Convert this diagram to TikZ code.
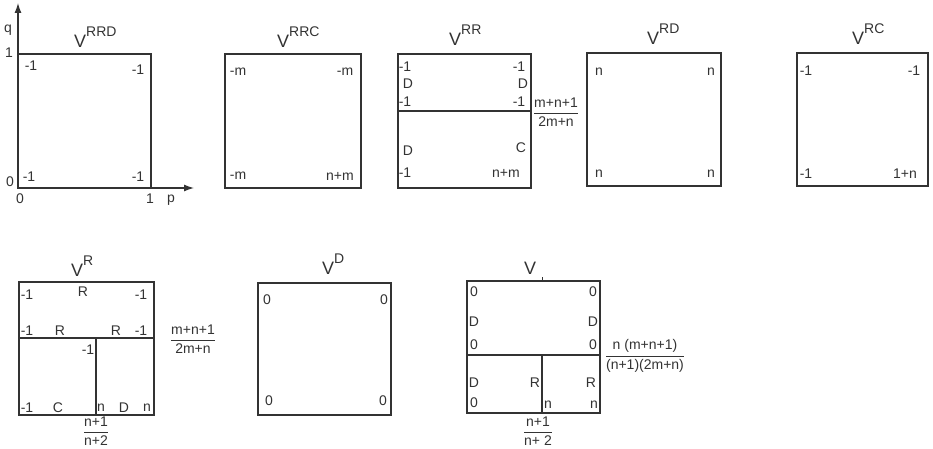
\documentclass[tikz,border=0pt]{standalone}
\usepackage{fontspec}
\usepackage{amsmath}
\setmainfont{Liberation Sans}
\usetikzlibrary{arrows.meta}
\definecolor{ink}{HTML}{333333}
\newcommand\lblf{\fontsize{14}{15}\selectfont}
\newcommand\vf{\fontsize{18}{19}\selectfont}
\newcommand\supf{\fontsize{14}{15}\selectfont}
\newcommand\ttlV[1]{{\vf V}\raisebox{11pt}{\supf #1}}
\begin{document}
\begin{tikzpicture}[x=1pt,y=-1pt,
  box/.style={draw=ink,line width=1.3pt},
  lab/.style={font=\lblf,text=ink,inner sep=0pt},
  ttl/.style={text=ink,inner sep=0pt,anchor=base west},
  frac/.style={font=\lblf,text=ink,inner sep=0pt},
  axis/.style={draw=ink,line width=1.3pt,-{Latex[length=10pt,width=7pt]}}]
\useasboundingbox (0,0) rectangle (933,449);
% ---------------- V^RRD with axes
\coordinate (o) at (18,188);
\coordinate (qtip) at (18,3);
\coordinate (ptip) at (194,188);
\draw[box] (18,54) rectangle (151,188);
\draw[axis] (o) -- (qtip);
\draw[axis] (o) -- (ptip);
\node[ttl] (t1) at (74,48) {\ttlV{RRD}};
\node[lab] (q) at (8,30) {q};
\node[lab] (q1) at (9,53) {1};
\node[lab] (q0) at (10,182) {0};
\node[lab] (p0) at (20,199) {0};
\node[lab] (p1) at (150,199) {1};
\node[lab] (p) at (171,200) {p};
\node[lab] (a1) at (31,66) {-1};
\node[lab] (a2) at (138,70) {-1};
\node[lab] (a3) at (29,177) {-1};
\node[lab] (a4) at (138,177) {-1};
% ---------------- V^RRC
\draw[box] (225,54) rectangle (361,188);
\node[ttl] (t2) at (277,48) {\ttlV{RRC}};
\node[lab] (b1) at (238,72) {-m};
\node[lab] (b2) at (345,72) {-m};
\node[lab] (b3) at (238,176) {-m};
\node[lab] (b4) at (340,176) {n+m};
% ---------------- V^RR
\draw[box] (398,54) rectangle (531,188);
\draw[box] (398,111) -- (531,111);
\node[ttl] (t3) at (449,46) {\ttlV{RR}};
\node[lab] (c1) at (405,67) {-1};
\node[lab] (c2) at (408,84) {D};
\node[lab] (c3) at (405,102) {-1};
\node[lab] (c4) at (519,67) {-1};
\node[lab] (c5) at (523,84) {D};
\node[lab] (c6) at (519,102) {-1};
\node[lab] (c7) at (408,151) {D};
\node[lab] (c8) at (405,173) {-1};
\node[lab] (c9) at (521,148) {C};
\node[lab] (c10) at (506,173) {n+m};
\node[frac] (cf) at (556,112) {$\dfrac{\text{m+n+1}}{\text{2m+n}}$};
% ---------------- V^RD
\draw[box] (587,53) rectangle (721,186);
\node[ttl] (t4) at (647,45) {\ttlV{RD}};
\node[lab] (d1) at (599,72) {n};
\node[lab] (d2) at (711,72) {n};
\node[lab] (d3) at (599,174) {n};
\node[lab] (d4) at (711,174) {n};
% ---------------- V^RC
\draw[box] (797,53) rectangle (928,186);
\node[ttl] (t5) at (852,45) {\ttlV{RC}};
\node[lab] (e1) at (806,71) {-1};
\node[lab] (e2) at (914,71) {-1};
\node[lab] (e3) at (806,174) {-1};
\node[lab] (e4) at (905,174) {1+n};
% ---------------- V^R
\draw[box] (19,282) rectangle (154,415);
\draw[box] (19,338) -- (154,338);
\draw[box] (96,338) -- (96,415);
\node[ttl] (t6) at (71,276) {\ttlV{R}};
\node[lab] (f1) at (27,295) {-1};
\node[lab] (f2) at (83,292) {R};
\node[lab] (f3) at (141,295) {-1};
\node[lab] (f4) at (27,331) {-1};
\node[lab] (f5) at (60,331) {R};
\node[lab] (f6) at (116,331) {R};
\node[lab] (f7) at (141,331) {-1};
\node[lab] (f8) at (88,350) {-1};
\node[lab] (f9) at (27,408) {-1};
\node[lab] (f10) at (58,408) {C};
\node[lab] (f11) at (101,408) {n};
\node[lab] (f12) at (124,408) {D};
\node[lab] (f13) at (147,408) {n};
\node[frac] (ff1) at (193,339) {$\dfrac{\text{m+n+1}}{\text{2m+n}}$};
\node[frac] (ff2) at (96,431) {$\dfrac{\text{n+1}}{\text{n+2}}$};
% ---------------- V^D
\draw[box] (258,283) rectangle (391,415);
\node[ttl] (t7) at (322,274) {\ttlV{D}};
\node[lab] (g1) at (267,300) {0};
\node[lab] (g2) at (384,300) {0};
\node[lab] (g3) at (269,401) {0};
\node[lab] (g4) at (383,401) {0};
% ---------------- V
\draw[box] (467,281) rectangle (600,413);
\draw[box] (467,355) -- (600,355);
\draw[box] (542,355) -- (542,413);
\draw[draw=ink,line width=0.8pt] (542,281) -- (542,277);
\node[ttl] (t8) at (524,274) {{\vf V}};
\node[lab] (h1) at (474,292) {0};
\node[lab] (h2) at (474,322) {D};
\node[lab] (h3) at (474,345) {0};
\node[lab] (h4) at (593,292) {0};
\node[lab] (h5) at (593,322) {D};
\node[lab] (h6) at (593,345) {0};
\node[lab] (h7) at (474,383) {D};
\node[lab] (h8) at (474,403) {0};
\node[lab] (h9) at (535,383) {R};
\node[lab] (h10) at (591,383) {R};
\node[lab] (h11) at (548,405) {n};
\node[lab] (h12) at (594,405) {n};
\node[frac] (hf1) at (645,356) {$\dfrac{\text{n (m+n+1)}}{\text{(n+1)(2m+n)}}$};
\node[frac] (hf2) at (538,431) {$\dfrac{\text{n+1}}{\text{n+ 2}}$};
\end{tikzpicture}
\end{document}
